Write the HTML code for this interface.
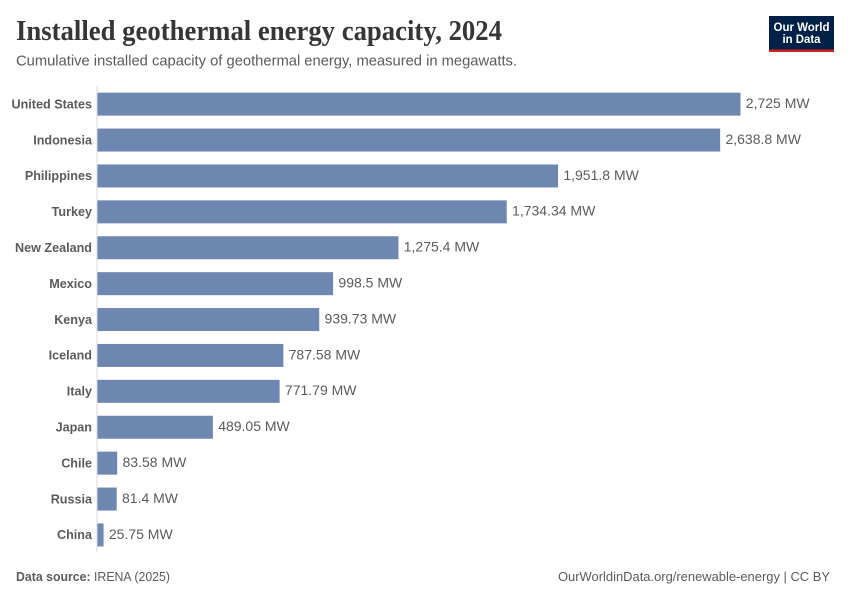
<!DOCTYPE html>
<html lang="en">
<head>
<meta charset="utf-8">
<title>Installed geothermal energy capacity, 2024</title>
<style>
html,body{margin:0;padding:0;background:#fff}
svg{display:block}
text{font-family:"Liberation Sans",sans-serif}
</style>
</head>
<body>
<svg id="chart" xmlns="http://www.w3.org/2000/svg" width="850" height="600" viewBox="0 0 850 600">
  <rect x="0" y="0" width="850" height="600" fill="#fff"/>
  <text x="16" y="40" textLength="486" lengthAdjust="spacingAndGlyphs" style="font-family:'Liberation Serif',serif;font-weight:700;font-size:28px" fill="#363636">Installed geothermal energy capacity, 2024</text>
  <text x="16" y="65.5" textLength="501" lengthAdjust="spacingAndGlyphs" font-size="14.5" fill="#5b5b5b">Cumulative installed capacity of geothermal energy, measured in megawatts.</text>
  <g>
    <rect x="769" y="16" width="65" height="36" fill="#002147"/>
    <rect x="769" y="49.5" width="65" height="2.5" fill="#ce261e"/>
    <text x="801.5" y="31" text-anchor="middle" textLength="56" lengthAdjust="spacingAndGlyphs" font-size="12" font-weight="700" fill="#fff">Our World</text>
    <text x="801.5" y="43" text-anchor="middle" textLength="38" lengthAdjust="spacingAndGlyphs" font-size="12" font-weight="700" fill="#fff">in Data</text>
  </g>
  <g id="plot"></g>
  <text x="16" y="581" font-size="12.6" fill="#5b5b5b" textLength="154" lengthAdjust="spacingAndGlyphs"><tspan font-weight="700">Data source:</tspan> IRENA (2025)</text>
  <text x="830" y="581" text-anchor="end" textLength="272" lengthAdjust="spacingAndGlyphs" font-size="13" fill="#5b5b5b">OurWorldinData.org/renewable-energy | CC BY</text>
</svg>
<script>
const categories = ["United States","Indonesia","Philippines","Turkey","New Zealand","Mexico","Kenya","Iceland","Italy","Japan","Chile","Russia","China"];
const capacityValues = [2725,2638.8,1951.8,1734.34,1275.4,998.5,939.73,787.58,771.79,489.05,83.58,81.4,25.75];
const valueLabels = ["2,725 MW","2,638.8 MW","1,951.8 MW","1,734.34 MW","1,275.4 MW","998.5 MW","939.73 MW","787.58 MW","771.79 MW","489.05 MW","83.58 MW","81.4 MW","25.75 MW"];

const NS = "http://www.w3.org/2000/svg";
const plot = document.getElementById("plot");
const x0 = 97.5, x1 = 740.5;
const y0 = 86.2, bandStep = 35.9, barHeight = 23;
const xMax = 2725;

function xScale(v) { return (v / xMax) * (x1 - x0); }
function yScale(i) { return y0 + i * bandStep + (bandStep - barHeight) / 2; }

const axis = document.createElementNS(NS, "line");
axis.setAttribute("x1", x0 - 0.5);
axis.setAttribute("x2", x0 - 0.5);
axis.setAttribute("y1", 86);
axis.setAttribute("y2", 552);
axis.setAttribute("stroke", "#dadada");
axis.setAttribute("stroke-width", 1);


plot.appendChild(axis);

categories.forEach(function (name, i) {
  const y = yScale(i);
  const w = xScale(capacityValues[i]);

  const label = document.createElementNS(NS, "text");
  label.setAttribute("x", x0 - 5.5);
  label.setAttribute("y", y + barHeight / 2 + 4.2);
  label.setAttribute("text-anchor", "end");
  label.setAttribute("font-size", "12.6");
  label.setAttribute("font-weight", "700");
  label.setAttribute("fill", "#5b5b5b");
  label.textContent = name;
  
  
  plot.appendChild(label);

  const bar = document.createElementNS(NS, "rect");
  bar.setAttribute("x", x0);
  bar.setAttribute("y", y);
  bar.setAttribute("width", w);
  bar.setAttribute("height", barHeight);
  bar.setAttribute("fill", "#6d87b0");
  
  
  plot.appendChild(bar);

  const value = document.createElementNS(NS, "text");
  value.setAttribute("x", x0 + w + 5.3);
  value.setAttribute("y", y + barHeight / 2 + 3.8);
  value.setAttribute("font-size", "14");
  value.setAttribute("fill", "#5b5b5b");
  value.textContent = valueLabels[i];
  
  
  plot.appendChild(value);
});
</script>
</body>
</html>
